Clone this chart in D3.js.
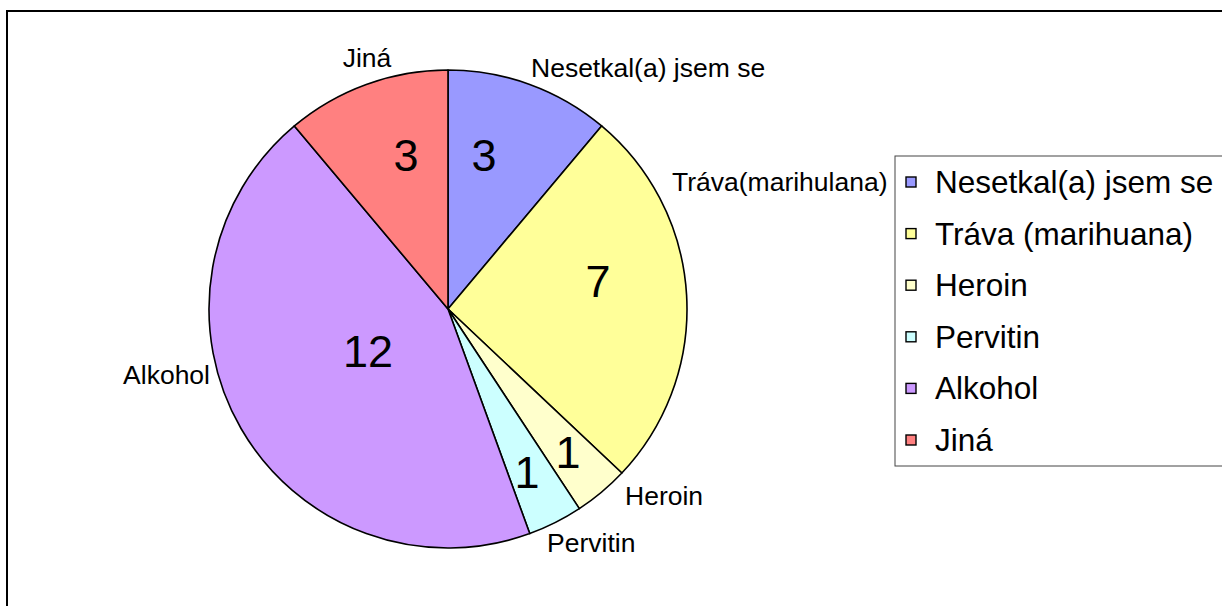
<!DOCTYPE html>
<html>
<head>
<meta charset="utf-8">
<script src="https://cdn.jsdelivr.net/npm/d3@7"></script>
<style>
  html, body { margin: 0; padding: 0; background: #fff; }
  svg { display: block; font-family: "Liberation Sans", Arial, sans-serif; }
</style>
</head>
<body>
<svg id="chart" width="1222" height="606"></svg>
<script>
// ---- data ----
const categories = ["Nesetkal(a) jsem se", "Tráva (marihuana)", "Heroin", "Pervitin", "Alkohol", "Jiná"];
const sliceLabels = ["Nesetkal(a) jsem se", "Tráva(marihulana)", "Heroin", "Pervitin", "Alkohol", "Jiná"];
const values = [3, 7, 1, 1, 12, 3];
const colors = ["#9999FF", "#FFFF99", "#FFFFCC", "#CCFFFF", "#CC99FF", "#FF8080"];

// ---- layout (positions relative to pie centre) ----
const cx = 448, cy = 309, radius = 239;
const nameOffsets = [[83, -232, "start"], [224, -118, "start"], [177, 196, "start"], [99, 243, "start"], [-238, 75, "end"], [-81, -242, "middle"]];
const valueOffsets = [[36, -138], [150, -12], [120, 159], [79, 179], [-80, 58], [-42, -138]];

const svg = d3.select("#chart");

// outer frame
svg.append("rect")
  .attr("x", 7).attr("y", 11).attr("width", 1400).attr("height", 800)
  .attr("fill", "#fff").attr("stroke", "#000").attr("stroke-width", 2);

const pie = d3.pie().sort(null).value(d => d)(values);
const arc = d3.arc().innerRadius(0).outerRadius(radius);

const g = svg.append("g").attr("transform", `translate(${cx},${cy})`);

g.selectAll("path.slice").data(pie).join("path")
  .attr("class", "slice")
  .attr("d", arc)
  .attr("fill", (d, i) => colors[i])
  .attr("stroke", "#000")
  .attr("stroke-width", 1.6)
  .attr("stroke-linejoin", "round");

// value labels
g.selectAll("text.val").data(pie).join("text")
  .attr("class", "val")
  .attr("x", (d, i) => valueOffsets[i][0])
  .attr("y", (d, i) => valueOffsets[i][1])
  .attr("text-anchor", "middle")
  .attr("font-size", 45)
  .attr("fill", "#000")
  .text(d => d.data);

// category labels
g.selectAll("text.name").data(pie).join("text")
  .attr("class", "name")
  .attr("x", (d, i) => nameOffsets[i][0])
  .attr("y", (d, i) => nameOffsets[i][1])
  .attr("text-anchor", (d, i) => nameOffsets[i][2])
  .attr("font-size", 26.5)
  .attr("fill", "#000")
  .text((d, i) => sliceLabels[i]);

// legend
const lg = svg.append("g").attr("transform", "translate(895,156)");
lg.append("rect")
  .attr("x", 0).attr("y", 0).attr("width", 400).attr("height", 310)
  .attr("fill", "#fff").attr("stroke", "#444").attr("stroke-width", 1);

const rowY = d3.scalePoint().domain(categories).range([37, 295]);
const rows = lg.selectAll("g.row").data(categories).join("g")
  .attr("class", "row")
  .attr("transform", d => `translate(0,${rowY(d)})`);
rows.append("rect")
  .attr("x", 11).attr("y", -16).attr("width", 10).attr("height", 10)
  .attr("fill", (d, i) => colors[i]).attr("stroke", "#000").attr("stroke-width", 1.4);
rows.append("text")
  .attr("x", 40).attr("y", 0)
  .attr("font-size", 31.5)
  .attr("fill", "#000")
  .text(d => d);
</script>
</body>
</html>
